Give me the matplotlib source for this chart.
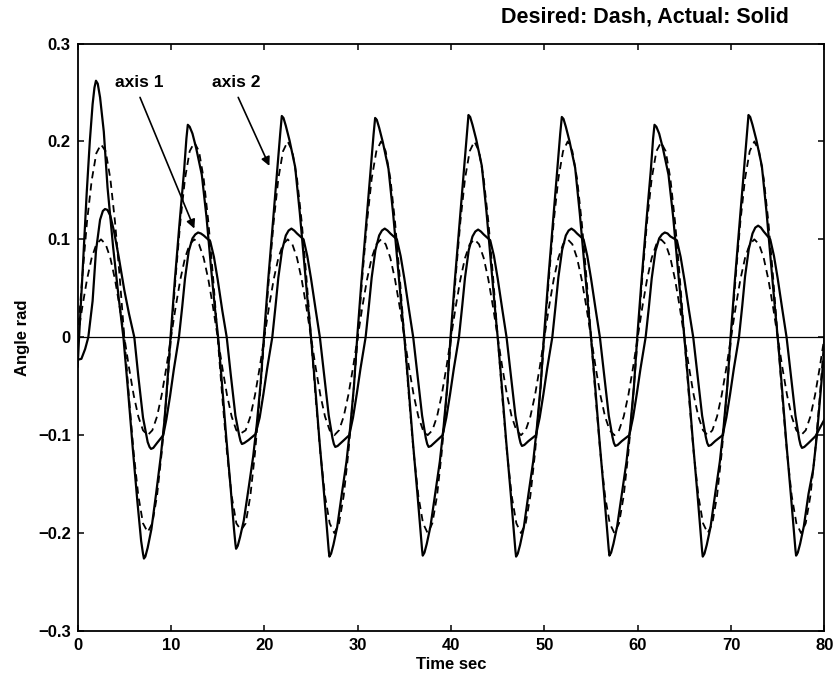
import numpy as np
import matplotlib
matplotlib.use('Agg')
import matplotlib.pyplot as plt

plt.rcParams['font.family'] = ['Liberation Sans', 'DejaVu Sans']
plt.rcParams['font.weight'] = 'bold'

des_t = np.arange(0, 80.5, 0.5)
des2 = [0.000, 0.062, 0.118, 0.160, 0.188, 0.197, 0.190, 0.162, 0.118, 0.062, 0.000, -0.062, -0.118, -0.162, -0.190, -0.199, -0.190, -0.162, -0.118, -0.062,
        0.000, 0.062, 0.118, 0.162, 0.190, 0.199, 0.190, 0.162, 0.118, 0.062, 0.000, -0.062, -0.118, -0.162, -0.190, -0.197, -0.190, -0.162, -0.118, -0.062,
        0.000, 0.062, 0.118, 0.162, 0.190, 0.200, 0.190, 0.162, 0.118, 0.062, 0.000, -0.062, -0.118, -0.162, -0.190, -0.200, -0.190, -0.162, -0.118, -0.062,
        0.000, 0.062, 0.118, 0.162, 0.190, 0.200, 0.190, 0.162, 0.118, 0.062, 0.000, -0.062, -0.118, -0.162, -0.190, -0.200, -0.190, -0.162, -0.118, -0.062,
        0.000, 0.062, 0.118, 0.162, 0.190, 0.200, 0.190, 0.162, 0.118, 0.062, 0.000, -0.062, -0.118, -0.162, -0.190, -0.200, -0.190, -0.162, -0.118, -0.062,
        0.000, 0.062, 0.118, 0.162, 0.190, 0.200, 0.190, 0.162, 0.118, 0.062, 0.000, -0.062, -0.118, -0.162, -0.190, -0.200, -0.190, -0.162, -0.118, -0.062,
        0.000, 0.062, 0.118, 0.162, 0.190, 0.199, 0.190, 0.162, 0.118, 0.062, 0.000, -0.062, -0.118, -0.162, -0.190, -0.200, -0.190, -0.162, -0.118, -0.062,
        0.000, 0.062, 0.118, 0.162, 0.190, 0.200, 0.190, 0.162, 0.118, 0.062, 0.000, -0.062, -0.118, -0.162, -0.190, -0.200, -0.190, -0.162, -0.118, -0.062,
        0.000]
des1 = [0.000, 0.031, 0.059, 0.081, 0.095, 0.100, 0.095, 0.081, 0.059, 0.031, 0.000, -0.031, -0.059, -0.081, -0.095, -0.100, -0.095, -0.081, -0.059, -0.031,
        0.000, 0.031, 0.059, 0.081, 0.095, 0.100, 0.095, 0.081, 0.059, 0.031, 0.000, -0.031, -0.059, -0.081, -0.095, -0.098, -0.095, -0.081, -0.059, -0.031,
        0.000, 0.031, 0.059, 0.081, 0.095, 0.100, 0.095, 0.081, 0.059, 0.031, 0.000, -0.031, -0.059, -0.081, -0.095, -0.100, -0.095, -0.081, -0.059, -0.031,
        0.000, 0.031, 0.059, 0.081, 0.095, 0.100, 0.095, 0.081, 0.059, 0.031, 0.000, -0.031, -0.059, -0.081, -0.095, -0.100, -0.095, -0.081, -0.059, -0.031,
        0.000, 0.031, 0.059, 0.081, 0.095, 0.100, 0.095, 0.081, 0.059, 0.031, 0.000, -0.031, -0.059, -0.081, -0.095, -0.100, -0.095, -0.081, -0.059, -0.031,
        0.000, 0.031, 0.059, 0.081, 0.095, 0.100, 0.095, 0.081, 0.059, 0.031, 0.000, -0.031, -0.059, -0.081, -0.095, -0.100, -0.095, -0.081, -0.059, -0.031,
        0.000, 0.031, 0.059, 0.081, 0.095, 0.100, 0.095, 0.081, 0.059, 0.031, 0.000, -0.031, -0.059, -0.081, -0.095, -0.100, -0.095, -0.081, -0.059, -0.031,
        0.000, 0.031, 0.059, 0.081, 0.095, 0.100, 0.095, 0.081, 0.059, 0.031, 0.000, -0.031, -0.059, -0.081, -0.095, -0.100, -0.095, -0.081, -0.059, -0.031,
        0.000]

# axis 2 actual (solid), knots
act2_t = [0.0, 0.15, 0.5, 0.96, 1.3, 1.6, 1.8, 1.96, 2.15, 2.4, 2.8, 3.2, 3.8, 4.4, 4.9, 5.4, 5.9, 6.4, 6.8, 7.0, 7.1, 7.25, 7.5, 7.9, 8.4, 8.9, 9.3, 9.6, 9.95,
          10.4, 10.9, 11.4, 11.65, 11.8, 12.0, 12.3, 12.7, 13.3, 13.8, 14.3, 14.7, 15.05, 15.4, 15.9, 16.4, 16.75, 16.9, 16.97, 17.15, 17.4, 17.8, 18.3, 18.8, 19.2, 19.6, 19.95,
          20.4, 20.9, 21.4, 21.7, 21.87, 22.05, 22.3, 22.7, 23.3, 23.8, 24.3, 24.7, 25.0, 25.4, 25.9, 26.4, 26.75, 26.9, 26.97, 27.15, 27.4, 27.8, 28.3, 28.8, 29.2, 29.6, 29.95,
          30.4, 30.9, 31.4, 31.7, 31.87, 32.05, 32.3, 32.7, 33.3, 33.8, 34.3, 34.7, 35.0, 35.4, 35.9, 36.4, 36.75, 36.9, 36.97, 37.15, 37.4, 37.8, 38.3, 38.8, 39.2, 39.6, 39.95,
          40.4, 40.9, 41.4, 41.7, 41.87, 42.05, 42.3, 42.7, 43.3, 43.8, 44.3, 44.7, 45.0, 45.4, 45.9, 46.4, 46.75, 46.9, 46.97, 47.15, 47.4, 47.8, 48.3, 48.8, 49.2, 49.6, 49.95,
          50.4, 50.9, 51.4, 51.7, 51.87, 52.05, 52.3, 52.7, 53.3, 53.8, 54.3, 54.7, 55.0, 55.4, 55.9, 56.4, 56.75, 56.9, 56.97, 57.15, 57.4, 57.8, 58.3, 58.8, 59.2, 59.6, 59.95,
          60.4, 60.9, 61.4, 61.65, 61.8, 62.0, 62.3, 62.7, 63.3, 63.8, 64.3, 64.7, 65.0, 65.4, 65.9, 66.4, 66.75, 66.9, 66.97, 67.15, 67.4, 67.8, 68.3, 68.8, 69.2, 69.6, 69.95,
          70.4, 70.9, 71.4, 71.7, 71.87, 72.05, 72.3, 72.7, 73.3, 73.8, 74.3, 74.7, 75.0, 75.4, 75.9, 76.4, 76.75, 76.9, 76.97, 77.15, 77.4, 77.8, 78.3, 78.8, 79.2, 79.6, 79.9, 80.0]
act2_y = [-0.030, 0.000, 0.062, 0.146, 0.200, 0.238, 0.255, 0.262, 0.259, 0.245, 0.210, 0.153, 0.092, 0.040, 0.000, -0.055, -0.113, -0.168, -0.208, -0.221, -0.226, -0.224, -0.215, -0.196, -0.160, -0.122, -0.085, -0.047, 0.000,
          0.057, 0.115, 0.170, 0.203, 0.217, 0.215, 0.208, 0.193, 0.166, 0.123, 0.070, 0.030, 0.000, -0.040, -0.100, -0.155, -0.196, -0.211, -0.216, -0.213, -0.204, -0.187, -0.155, -0.122, -0.088, -0.047, 0.000,
          0.057, 0.115, 0.172, 0.208, 0.226, 0.224, 0.216, 0.201, 0.174, 0.127, 0.073, 0.030, 0.000, -0.045, -0.105, -0.160, -0.201, -0.218, -0.224, -0.221, -0.212, -0.194, -0.160, -0.127, -0.092, -0.050, 0.000,
          0.057, 0.115, 0.172, 0.207, 0.224, 0.222, 0.214, 0.199, 0.172, 0.126, 0.072, 0.030, 0.000, -0.045, -0.105, -0.160, -0.200, -0.217, -0.223, -0.220, -0.211, -0.193, -0.160, -0.127, -0.092, -0.050, 0.000,
          0.057, 0.115, 0.172, 0.209, 0.227, 0.225, 0.217, 0.202, 0.175, 0.128, 0.073, 0.030, 0.000, -0.045, -0.105, -0.160, -0.201, -0.218, -0.224, -0.221, -0.212, -0.194, -0.160, -0.127, -0.092, -0.050, 0.000,
          0.057, 0.115, 0.172, 0.208, 0.225, 0.223, 0.215, 0.200, 0.173, 0.126, 0.072, 0.030, 0.000, -0.045, -0.105, -0.160, -0.200, -0.217, -0.223, -0.220, -0.211, -0.193, -0.160, -0.127, -0.092, -0.050, 0.000,
          0.057, 0.115, 0.170, 0.203, 0.217, 0.215, 0.208, 0.193, 0.166, 0.123, 0.070, 0.030, 0.000, -0.045, -0.105, -0.160, -0.201, -0.218, -0.224, -0.221, -0.212, -0.194, -0.160, -0.127, -0.092, -0.050, 0.000,
          0.057, 0.115, 0.172, 0.209, 0.227, 0.225, 0.217, 0.202, 0.175, 0.128, 0.073, 0.030, 0.000, -0.045, -0.105, -0.160, -0.200, -0.217, -0.223, -0.220, -0.211, -0.193, -0.160, -0.135, -0.100, -0.055, -0.022, -0.008]

# axis 1 actual (solid), knots
act1_t = [0.0, 0.4, 0.8, 1.14, 1.6, 1.96, 2.4, 2.7, 2.93, 3.2, 3.5, 3.9, 4.4, 5.0, 5.5, 6.07, 6.5, 7.0, 7.5, 7.7, 7.86, 8.1, 8.5, 9.17, 9.5, 9.9, 10.3, 10.85,
          11.2, 11.5, 11.9, 12.3, 12.6, 12.9, 13.2, 13.5, 14.2, 14.6, 15.0, 15.5, 15.97, 16.4, 16.9, 17.3, 17.45, 17.6, 17.85, 18.3, 19.05, 19.5, 19.9, 20.3, 20.85,
          21.2, 21.5, 21.9, 22.3, 22.6, 22.9, 23.2, 23.5, 24.2, 24.6, 25.0, 25.5, 25.95, 26.4, 26.9, 27.3, 27.45, 27.6, 27.85, 28.3, 29.1, 29.5, 29.9, 30.3, 30.85,
          31.2, 31.5, 31.9, 32.3, 32.6, 32.9, 33.2, 33.5, 34.2, 34.6, 35.0, 35.5, 35.95, 36.4, 36.9, 37.3, 37.45, 37.6, 37.85, 38.3, 39.1, 39.5, 39.9, 40.3, 40.85,
          41.2, 41.5, 41.9, 42.3, 42.6, 42.9, 43.2, 43.5, 44.2, 44.6, 45.0, 45.5, 45.95, 46.4, 46.9, 47.3, 47.45, 47.6, 47.85, 48.3, 49.1, 49.5, 49.9, 50.3, 50.85,
          51.2, 51.5, 51.9, 52.3, 52.6, 52.9, 53.2, 53.5, 54.2, 54.6, 55.0, 55.5, 55.95, 56.4, 56.9, 57.3, 57.45, 57.6, 57.85, 58.3, 59.1, 59.5, 59.9, 60.3, 60.85,
          61.2, 61.5, 61.9, 62.3, 62.6, 62.9, 63.2, 63.5, 64.2, 64.6, 65.0, 65.5, 65.95, 66.4, 66.9, 67.3, 67.45, 67.6, 67.85, 68.3, 69.1, 69.5, 69.9, 70.3, 70.85,
          71.2, 71.5, 71.9, 72.3, 72.6, 72.9, 73.2, 73.5, 74.2, 74.6, 75.0, 75.5, 75.95, 76.4, 76.9, 77.3, 77.45, 77.6, 77.85, 78.3, 79.05, 79.5, 80.0]
act1_y = [-0.023, -0.022, -0.012, 0.000, 0.037, 0.088, 0.120, 0.129, 0.131, 0.130, 0.124, 0.108, 0.082, 0.048, 0.024, 0.000, -0.040, -0.082, -0.107, -0.112, -0.114, -0.113, -0.108, -0.100, -0.084, -0.060, -0.033, 0.000,
          0.031, 0.060, 0.088, 0.101, 0.105, 0.107, 0.106, 0.104, 0.098, 0.082, 0.059, 0.027, 0.000, -0.038, -0.080, -0.100, -0.106, -0.109, -0.108, -0.105, -0.099, -0.082, -0.058, -0.032, 0.000,
          0.032, 0.061, 0.089, 0.104, 0.109, 0.111, 0.109, 0.106, 0.100, 0.083, 0.060, 0.028, 0.000, -0.038, -0.080, -0.103, -0.109, -0.112, -0.111, -0.107, -0.100, -0.082, -0.058, -0.032, 0.000,
          0.032, 0.061, 0.089, 0.104, 0.109, 0.111, 0.109, 0.106, 0.100, 0.083, 0.060, 0.028, 0.000, -0.038, -0.080, -0.103, -0.109, -0.112, -0.111, -0.107, -0.100, -0.082, -0.058, -0.032, 0.000,
          0.032, 0.061, 0.089, 0.103, 0.108, 0.110, 0.108, 0.105, 0.099, 0.083, 0.060, 0.028, 0.000, -0.038, -0.080, -0.102, -0.108, -0.111, -0.110, -0.106, -0.100, -0.082, -0.058, -0.032, 0.000,
          0.032, 0.061, 0.089, 0.104, 0.109, 0.111, 0.109, 0.106, 0.100, 0.083, 0.060, 0.028, 0.000, -0.038, -0.080, -0.102, -0.108, -0.111, -0.110, -0.106, -0.100, -0.082, -0.058, -0.032, 0.000,
          0.031, 0.060, 0.088, 0.101, 0.105, 0.107, 0.106, 0.103, 0.099, 0.082, 0.059, 0.027, 0.000, -0.038, -0.080, -0.102, -0.108, -0.111, -0.110, -0.106, -0.100, -0.082, -0.058, -0.032, 0.000,
          0.032, 0.062, 0.090, 0.106, 0.112, 0.114, 0.112, 0.108, 0.100, 0.083, 0.060, 0.028, 0.000, -0.038, -0.080, -0.104, -0.110, -0.113, -0.112, -0.108, -0.101, -0.093, -0.084]

yticks = [-0.3, -0.2, -0.1, 0, 0.1, 0.2, 0.3]
ytick_labels = ['\u22120.3', '\u22120.2', '\u22120.1', '0', '0.1', '0.2', '0.3']
xticks = [0, 10, 20, 30, 40, 50, 60, 70, 80]

fig = plt.figure(figsize=(8.36, 6.78), dpi=100)
ax = fig.add_axes([0.0929, 0.0693, 0.8932, 0.8665])

ax.axhline(0, color='k', lw=0.9)
ax.plot(des_t, des2, color='k', lw=1.3, linestyle=(0, (4, 2.8)))
ax.plot(des_t, des1, color='k', lw=1.3, linestyle=(0, (4, 2.8)))
ax.plot(act2_t, act2_y, color='k', lw=1.6)
ax.plot(act1_t, act1_y, color='k', lw=1.6)

ax.set_xlim(0, 80)
ax.set_ylim(-0.3, 0.3)
ax.set_xticks(xticks)
ax.set_yticks(yticks)
ax.set_yticklabels(ytick_labels)
ax.tick_params(direction='in', top=True, right=True, length=4, width=1.1, labelsize=12, pad=5)
for s in ax.spines.values():
    s.set_linewidth(1.3)

ax.set_xlabel('Time sec', fontsize=12, fontweight='bold')
ax.set_ylabel('Angle rad', fontsize=12, fontweight='bold')
ax.xaxis.set_label_coords(0.5, -0.045)
ax.yaxis.set_label_coords(-0.064, 0.5)

ax.text(4.0, 0.2597, 'axis 1', fontsize=12.5, fontweight='bold', ha='left', va='center')
ax.text(14.43, 0.2597, 'axis 2', fontsize=12.5, fontweight='bold', ha='left', va='center')
arrow = dict(arrowstyle='-|>', color='k', lw=1.2, mutation_scale=13, shrinkA=0, shrinkB=0)
ax.annotate('', xy=(12.5, 0.111), xytext=(6.68, 0.245), arrowprops=arrow)
ax.annotate('', xy=(20.54, 0.175), xytext=(17.2, 0.245), arrowprops=arrow)

fig.text(789 / 836, 1 - 17 / 678, 'Desired: Dash, Actual: Solid', fontsize=15.5, fontweight='bold',
         ha='right', va='center')

fig.savefig('out.png', dpi=100)
